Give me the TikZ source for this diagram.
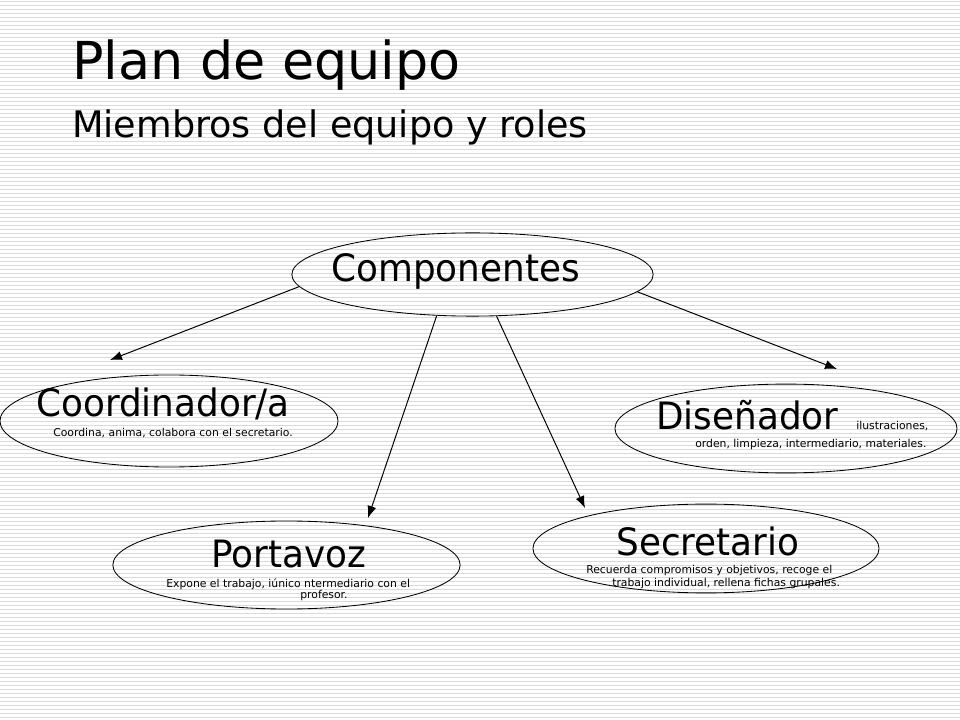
\documentclass[tikz,border=0pt]{standalone}
\usepackage{fontspec}
\setmainfont{DejaVu Sans}
\newfontfamily\estrecha{DejaVu Sans}[FakeStretch=0.95]
\usetikzlibrary{arrows.meta,shapes.geometric}
\definecolor{rayado}{RGB}{218,218,218}

\begin{document}
\begin{tikzpicture}[x=0.025cm,y=-0.025cm,>={Latex[length=8.5pt,width=6.5pt]},
    rol/.style={draw,ellipse,line width=0.6pt,inner sep=0pt},
    txt/.style={anchor=base west,inner sep=0pt},
    grande/.style={txt,font=\estrecha\fontsize{26.8}{32}\selectfont},
    nota/.style={txt,font=\fontsize{7.7}{9}\selectfont},
    flecha/.style={->,line width=0.7pt}]
  \useasboundingbox (0,0) rectangle (960,720);
  \fill[white] (0,0) rectangle (960,720);
  % fondo rayado
  \foreach \y in {1,5,...,717}
    \draw[rayado,line width=0.6pt] (0,\y) -- (960,\y);

  \node[txt,font=\fontsize{37.2}{44}\selectfont] (titulo) at (72,80) {Plan de equipo};
  \node[txt,font=\fontsize{26}{31}\selectfont] (subtitulo) at (72,138) {Miembros del equipo y roles};

  % elipses
  \node[rol,minimum width=9.03cm,minimum height=2.08cm] (comp) at (472.5,274.5) {};
  \node[rol,minimum width=8.45cm,minimum height=2.3cm] (coord) at (169,421) {};
  \node[rol,minimum width=8.55cm,minimum height=2.22cm] (disen) at (786,428.5) {};
  \node[rol,minimum width=8.68cm,minimum height=2.2cm] (porta) at (286.5,565) {};
  \node[rol,minimum width=8.65cm,minimum height=2.22cm] (secre) at (706,548.5) {};

  % textos
  \node[grande] (tcomp) at (331,282) {Componentes};
  \node[grande] (tcoord) at (36,417) {Coordinador/a};
  \node[nota] (ncoord) at (53,437) {Coordina, anima, colabora con el secretario.};
  \node[grande] (tdisen) at (656,430) {Diseñador};
  \node[nota] (ndisen1) at (856,430) {ilustraciones,};
  \node[nota] (ndisen2) at (695,448) {orden, limpieza, intermediario, materiales.};
  \node[grande] (tporta) at (211,567) {Portavoz};
  \node[nota] (nporta1) at (166,587) {Expone el trabajo, iúnico ntermediario con el};
  \node[nota] (nporta2) at (300,599) {profesor.};
  \node[grande] (tsecre) at (616,556) {Secretario};
  \node[nota] (nsecre1) at (586,574) {Recuerda compromisos y objetivos, recoge el};
  \node[nota] (nsecre2) at (612,586) {trabajo individual, rellena fichas grupales.};

  % flechas
  \coordinate (a1) at (110,360);
  \coordinate (a2) at (368,518);
  \coordinate (a3) at (585,508);
  \coordinate (a4) at (837,369);
  \draw[flecha] (comp.184) -- (a1);
  \draw[flecha] (comp.229) -- (a2);
  \draw[flecha] (comp.-60.5) -- (a3);
  \draw[flecha] (comp.-6.7) -- (a4);
\end{tikzpicture}
\end{document}
